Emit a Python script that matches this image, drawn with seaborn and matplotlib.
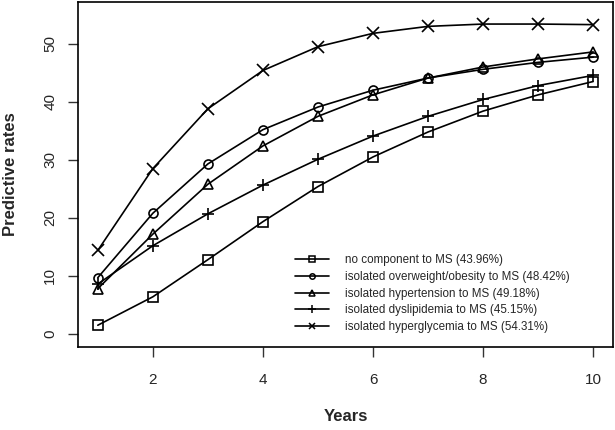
import numpy as np
import pandas as pd
import matplotlib
matplotlib.use("Agg")
import matplotlib.pyplot as plt
from matplotlib.lines import Line2D
import seaborn as sns

years = [1, 2, 3, 4, 5, 6, 7, 8, 9, 10]
no_component = [1.5, 6.4, 12.8, 19.35, 25.4, 30.5, 34.8, 38.4, 41.2, 43.5]
overweight = [9.7, 20.8, 29.3, 35.2, 39.1, 42.0, 44.1, 45.6, 46.8, 47.7]
hypertension = [7.8, 17.2, 25.8, 32.4, 37.5, 41.2, 44.1, 46.0, 47.4, 48.6]
dyslipidemia = [8.6, 15.2, 20.7, 25.65, 30.1, 34.1, 37.5, 40.4, 42.8, 44.55]
hyperglycemia = [14.4, 28.5, 38.8, 45.4, 49.5, 51.8, 53.0, 53.4, 53.4, 53.3]

labels = [
    "no component to MS (43.96%)",
    "isolated overweight/obesity to MS (48.42%)",
    "isolated hypertension to MS (49.18%)",
    "isolated dyslipidemia to MS (45.15%)",
    "isolated hyperglycemia to MS (54.31%)",
]
series = [no_component, overweight, hypertension, dyslipidemia, hyperglycemia]
markers = ["s", "o", "^", "+", "x"]
msizes = [6.5, 6.5, 7.5, 9, 8]

sns.set_style("ticks")
plt.rcParams["font.family"] = ["Liberation Sans", "DejaVu Sans"]

fig = plt.figure(figsize=(6.15, 4.30), dpi=100)
ax = fig.add_axes([78 / 615, 1 - 346.7 / 430, (613 - 78) / 615, (346.7 - 2) / 430])

for vals, lab, m, ms in zip(series, labels, markers, msizes):
    df = pd.DataFrame({"Years": years, "rate": vals})
    sns.lineplot(data=df, x="Years", y="rate", ax=ax, color="black", lw=1.2,
                 marker=m, markersize=ms, markerfacecolor="none",
                 markeredgecolor="black", markeredgewidth=1.2, label=lab)

ax.set_xlim(0.64, 10.36)
ax.set_ylim(-2.2, 57.2)
ax.set_xticks([2, 4, 6, 8, 10])
ax.set_yticks([0, 10, 20, 30, 40, 50])
ax.set_xticklabels(["2", "4", "6", "8", "10"], fontsize=11)
ax.set_yticklabels(["0", "10", "20", "30", "40", "50"], fontsize=11,
                   rotation=90, va="center")
ax.tick_params(axis="both", direction="out", length=7, width=1, color="#333333",
               pad=8)
ax.tick_params(axis="x", pad=12)
for s in ax.spines.values():
    s.set_visible(True)
    s.set_linewidth(1.2)
    s.set_color("black")

ax.set_xlabel("Years", fontsize=12, fontweight="bold")
ax.set_ylabel("Predictive rates", fontsize=12, fontweight="bold")
ax.xaxis.set_label_coords(0.5, -0.182)
ax.yaxis.set_label_coords(-0.113, 0.5)

handles = [Line2D([], [], color="black", lw=1.2, marker=m, markersize=ms * 0.6,
                  markerfacecolor="none", markeredgecolor="black",
                  markeredgewidth=1.1) for m, ms in zip(markers, msizes)]
ax.legend(handles, labels, loc="upper left", bbox_to_anchor=(295 / 615, 1 - 254.5 / 430),
          bbox_transform=fig.transFigure, frameon=False, fontsize=8.4,
          handlelength=2.9, handletextpad=1.37, labelspacing=0.39,
          borderpad=0, borderaxespad=0)

fig.savefig("out.png", dpi=100)
